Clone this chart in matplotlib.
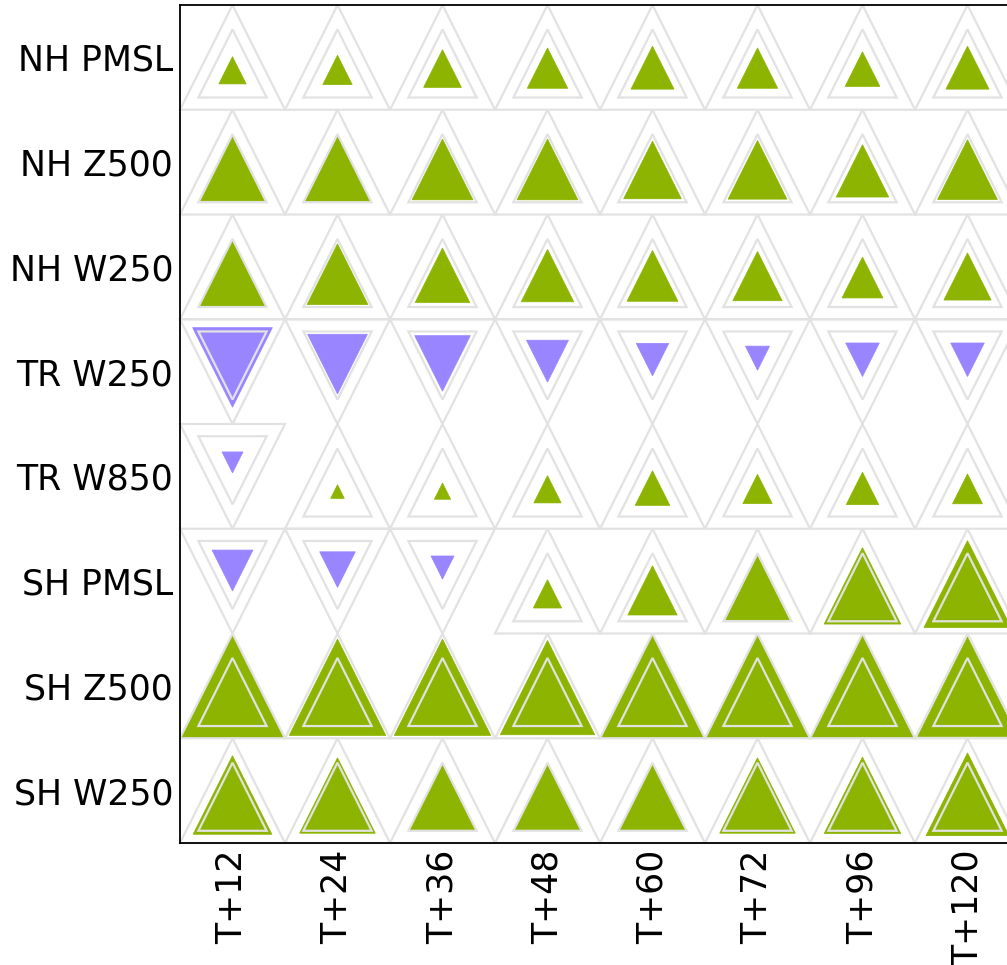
import numpy as np
import matplotlib
matplotlib.use('Agg')
import matplotlib.pyplot as plt
from matplotlib.patches import Polygon

# scorecard: rows = parameters, columns = lead times
row_labels = ['NH PMSL', 'NH Z500', 'NH W250', 'TR W250',
              'TR W850', 'SH PMSL', 'SH Z500', 'SH W250']
lead_times = ['T+12', 'T+24', 'T+36', 'T+48', 'T+60', 'T+72', 'T+96', 'T+120']

# relative change (fraction of the outer triangle), sign = better/worse
nh_pmsl = [0.26, 0.28, 0.36, 0.385, 0.41, 0.385, 0.33, 0.41]
nh_z500 = [0.61, 0.62, 0.58, 0.58, 0.55, 0.56, 0.50, 0.57]
nh_w250 = [0.63, 0.58, 0.52, 0.50, 0.485, 0.47, 0.39, 0.45]
tr_w250 = [-0.76, -0.57, -0.53, -0.40, -0.31, -0.23, -0.32, -0.32]
tr_w850 = [-0.20, 0.13, 0.155, 0.26, 0.33, 0.28, 0.31, 0.285]
sh_pmsl = [-0.39, -0.34, -0.22, 0.27, 0.47, 0.61, 0.73, 0.83]
sh_z500 = [1.0, 0.92, 0.92, 0.90, 0.98, 1.0, 0.98, 0.95]
sh_w250 = [0.75, 0.72, 0.65, 0.63, 0.63, 0.72, 0.73, 0.79]

scores = [nh_pmsl, nh_z500, nh_w250, tr_w250, tr_w850, sh_pmsl, sh_z500, sh_w250]

green = '#8cb400'
purple = '#9985ff'
grey = '#e2e2e2'


def triangle(xc, yc, size, up):
    # y axis is inverted, so "up" means apex at smaller y
    if up:
        pts = np.array([[xc, yc - 0.5], [xc - 0.5, yc + 0.5], [xc + 0.5, yc + 0.5]])
    else:
        pts = np.array([[xc, yc + 0.5], [xc - 0.5, yc - 0.5], [xc + 0.5, yc - 0.5]])
    c = pts.mean(axis=0)
    return c + size * (pts - c)


fig = plt.figure(figsize=(10.07, 9.65), dpi=100)
ax = fig.add_axes([180 / 1007, 122 / 965, 840 / 1007, 838 / 965])

for i, row in enumerate(scores):
    for j, val in enumerate(row):
        up = val >= 0
        col = green if up else purple
        ax.add_patch(Polygon(triangle(j, i, abs(val), up), closed=True,
                             facecolor=col, edgecolor=col, lw=0.5,
                             zorder=2, clip_on=False))
        for s in (1.0, 0.65):
            ax.add_patch(Polygon(triangle(j, i, s, up), closed=True,
                                 facecolor='none', edgecolor=grey, lw=1.6,
                                 zorder=3, clip_on=False))

ax.set_xlim(-0.5, len(lead_times) - 0.5)
ax.set_ylim(len(row_labels) - 0.5, -0.5)
ax.set_xticks(np.arange(len(lead_times)))
ax.set_xticklabels(lead_times, rotation=90, fontsize=25)
ax.set_yticks(np.arange(len(row_labels)))
ax.set_yticklabels(row_labels, fontsize=25)
ax.tick_params(length=0, pad=5)
for sp in ax.spines.values():
    sp.set_linewidth(1.3)
    sp.set_zorder(4)

fig.savefig('out.png', dpi=100)
